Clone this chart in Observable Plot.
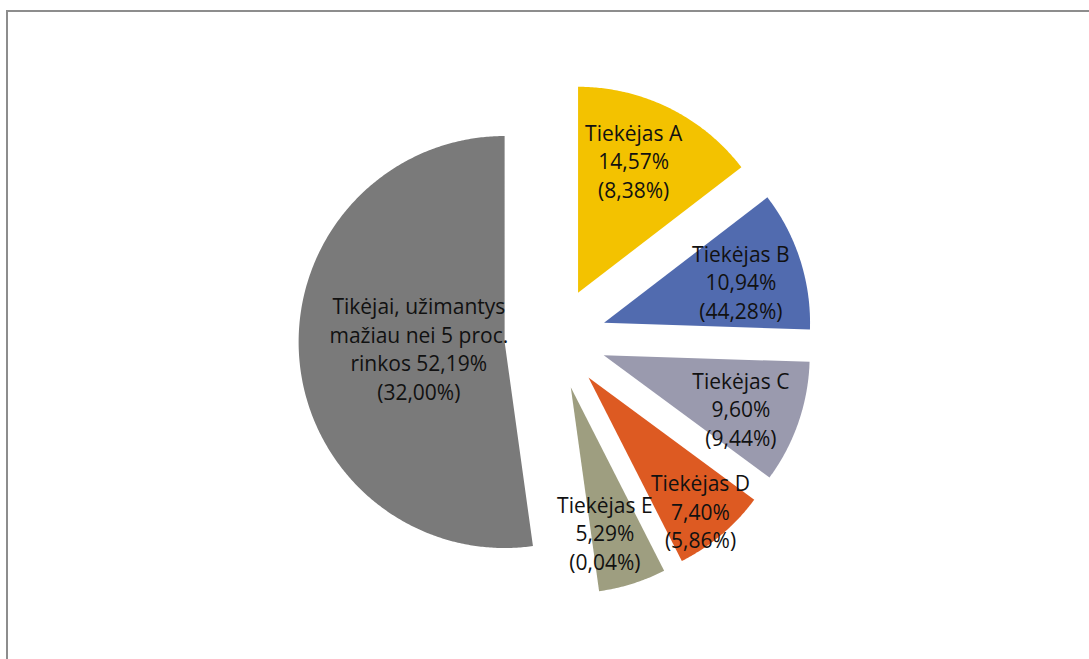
<!DOCTYPE html>
<html>
<head>
<meta charset="utf-8">
<script src="https://cdn.jsdelivr.net/npm/d3@7"></script>
<script src="https://cdn.jsdelivr.net/npm/@observablehq/plot@0.6"></script>
<style>
  html, body { margin: 0; padding: 0; background: #fff; overflow: hidden; }
  #wrap { position: relative; width: 1089px; height: 659px; overflow: hidden; }
  #frame { position: absolute; left: 6px; top: 10px; width: 1200px; height: 800px;
           border-top: 2px solid #8d8d8d; border-left: 2px solid #8d8d8d; }
  #chart { position: absolute; left: 0; top: 0; }
</style>
</head>
<body>
<div id="wrap"><div id="frame"></div><div id="chart"></div></div>
<script>
// ---- data ----
const categories = [
  "Tiekėjas A",
  "Tiekėjas B",
  "Tiekėjas C",
  "Tiekėjas D",
  "Tiekėjas E",
  "Tikėjai, užimantys\nmažiau nei 5 proc.\nrinkos"
];
const shares = [14.57, 10.94, 9.60, 7.40, 5.29, 52.19];
const secondShares = [8.38, 44.28, 9.44, 5.86, 0.04, 32.00];

// ---- styles / layout ----
const colors = ["#F3C200", "#516BAF", "#9A9AAE", "#DD5A22", "#9E9E80", "#7A7A7A"];
const W = 1089, H = 659;
const cx = 555, cy = 338;      // pie centre in pixels
const R = 206;                 // radius
const explode = 51;            // slice explosion distance
const labelDist = [144, 143, 147, 174, 149, 86];   // label distance from slice apex
const labelTurn = [-3.5, 0.9, 1.9, 0.2, 4.2, 0];   // degrees

const fmt = v => v.toFixed(2).replace(".", ",") + "%";

const rows = categories.map((c, i) => ({
  name: c, share: shares[i], second: secondShares[i], color: colors[i], i
}));
const arcs = d3.pie().sort(null).value(d => d.share)(rows);

const polys = [];
const labels = [];
arcs.forEach(a => {
  const mid = (a.startAngle + a.endAngle) / 2;
  const ox = explode * Math.sin(mid), oy = -explode * Math.cos(mid);
  const name = a.data.name;
  polys.push({x: ox, y: oy, key: name, color: a.data.color});
  const steps = Math.max(2, Math.ceil((a.endAngle - a.startAngle) / (Math.PI / 360)));
  for (let k = 0; k <= steps; k++) {
    const t = a.startAngle + (a.endAngle - a.startAngle) * k / steps;
    polys.push({x: ox + R * Math.sin(t), y: oy - R * Math.cos(t), key: name, color: a.data.color});
  }
  const la = mid + labelTurn[a.data.i] * Math.PI / 180;
  const ld = labelDist[a.data.i];
  const text = name + (name.includes("\n") ? " " : "\n") + fmt(a.data.share) + "\n(" + fmt(a.data.second) + ")";
  labels.push({x: ox + ld * Math.sin(la), y: oy - ld * Math.cos(la), text});
});

const chart = Plot.plot({
  width: W,
  height: H,
  margin: 0,
  x: {domain: [-cx, W - cx], range: [0, W], axis: null},
  y: {domain: [-cy, H - cy], range: [0, H], axis: null},
  style: {background: "transparent"},
  marks: [
    Plot.line(polys, {x: "x", y: "y", z: "key", fill: "color", stroke: "none", curve: "linear-closed"}),
    Plot.text(labels, {
      x: "x", y: "y", text: "text",
      fontSize: 21, lineHeight: 1.36,
      fontFamily: "'Open Sans', 'Noto Sans', sans-serif",
      fill: "#111", textAnchor: "middle"
    })
  ]
});
document.getElementById("chart").appendChild(chart);
</script>
</body>
</html>
